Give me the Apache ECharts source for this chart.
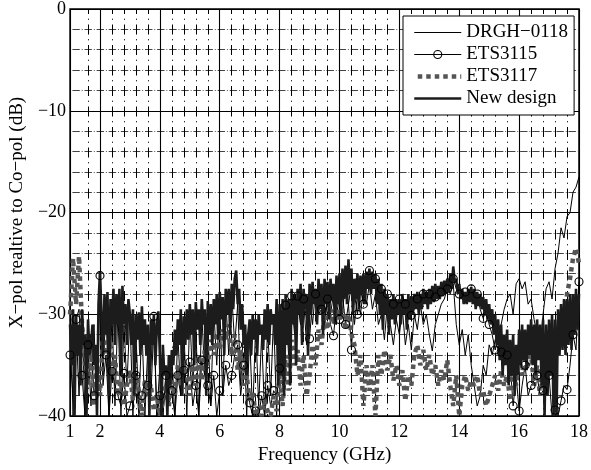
<!DOCTYPE html>
<html>
<head>
<meta charset="utf-8">
<script src="https://cdn.jsdelivr.net/npm/echarts@6/dist/echarts.min.js"></script>
<style>
html, body { margin: 0; padding: 0; background: #fff; }
#chart { width: 591px; height: 470px; }
</style>
</head>
<body>
<div id="chart"></div>
<script>
// Frequency axis (GHz)
const freqMin = 1;
const freqMax = 18;
const freqTickLabels = [1, 2, 4, 6, 8, 10, 12, 14, 16, 18];
const freqMinorGrid = [1.6, 2.4, 2.8, 3.2, 3.6, 4.4, 4.8, 5.2, 5.6, 6.4, 6.8, 7.2, 7.6,
  8.4, 8.8, 9.2, 9.6, 10.4, 10.8, 11.2, 11.6, 12.4, 12.8, 13.2, 13.6, 14.4, 14.8,
  15.2, 15.6, 16.4, 16.8, 17.2, 17.6];

// Cross-pol level axis (dB)
const levelMin = -40;
const levelMax = 0;
const levelStep = 10;

// Sweep settings of the measured traces
const sweepStart = 1;
const coarseStep = 0.1;   // DRGH-0118, ETS3115, ETS3117
const fineStep = 0.05;    // new design

const seriesNames = ['DRGH\u22120118', 'ETS3115', 'ETS3117', 'New design'];

// DRGH-0118, one row per GHz (1.0 ... 17.9), then 18.0
const drgh0118 = [
  -29, -40, -31, -38, -30, -40, -33, -39, -31, -40,
  -27, -36, -29, -40, -30, -39, -29.5, -40, -31, -37,
  -30, -40, -32, -39, -31, -40, -33, -38, -31, -40,
  -35, -40, -36, -39, -34, -40, -32, -38, -31, -40,
  -30, -37, -31, -40, -30, -36, -31, -39, -29.5, -35,
  -29, -38, -28.5, -34, -28, -33, -29, -37, -31, -40,
  -32, -40, -31, -39, -32, -40, -31, -38, -30, -40,
  -30, -37, -29, -34, -28.5, -32, -28, -31, -28.5, -33,
  -28, -31, -27.5, -30, -28, -31.5, -27.5, -30, -28, -31,
  -27, -30, -26.5, -29, -27, -31, -28, -30, -27.5, -29,
  -27, -29.5, -28, -31, -30, -32.5, -29, -31, -33, -30.5,
  -32, -29.5, -33, -31, -33.5, -30, -31.5, -29, -31, -30,
  -32, -33.6, -31, -30, -29, -28.5, -27.5, -28, -27, -31,
  -33, -31.5, -34, -32, -35, -37, -39, -38, -35, -36,
  -33, -34, -32.5, -33.5, -31, -29.5, -28.5, -28, -30, -27,
  -26.5, -27.5, -26.8, -29, -28.5, -30.5, -32, -33.4, -30, -27.5,
  -26.8, -28.5, -25.5, -24, -21.5, -22.5, -20.4, -20, -18, -17.5,
  -16.5
];

// ETS3115, one row per GHz (1.0 ... 17.9), then 18.0
const ets3115 = [
  -34, -38, -30.5, -29.5, -36, -40, -33, -32, -38, -36,
  -26.2, -37, -34, -40, -35.6, -37, -38, -39, -35.8, -40,
  -39, -38, -36, -40, -38, -36.5, -37, -35, -30.2, -40,
  -38, -40, -36, -39, -37.5, -40, -36, -38, -35.5, -37,
  -34.7, -39, -37, -40, -34.5, -36, -37, -39, -36, -40,
  -37.5, -38, -35, -37, -36, -34, -33, -38, -35, -36.5,
  -38.7, -40, -39.5, -40, -38, -40, -37, -39, -37.5, -38,
  -35.3, -32, -29.1, -31.2, -28.2, -30, -28.2, -31, -28.5, -30.5,
  -32.4, -28.5, -28, -30, -29.5, -31, -28.5, -31, -32.1, -29,
  -30.5, -28, -31, -29, -33.5, -28, -30, -27.5, -29, -26.5,
  -25.7, -27.5, -26.5, -28, -27.5, -29.5, -28, -30, -29, -30.5,
  -28.5, -30, -29, -30.5, -30.1, -29.5, -28.5, -29, -28, -28.5,
  -28, -27.5, -28.3, -27.3, -27.8, -27, -27.5, -26.8, -26.5, -27.5,
  -28, -28.5, -27.8, -28.3, -27.5, -28.5, -28, -29.5, -30.4, -29.5,
  -31, -32, -33.5, -32.5, -33.7, -35, -34, -34.8, -39, -36,
  -39.5, -37, -35, -38, -37, -36.5, -36, -38, -37.5, -36,
  -36, -40, -39.4, -40, -38.5, -37, -37.4, -35, -32, -33.5,
  -26.8
];

// ETS3117, one row per GHz (1.0 ... 17.9), then 18.0
const ets3117 = [
  -30, -24.5, -29, -24.3, -31, -35, -37, -33.5, -39, -35,
  -38, -32, -34, -31.7, -36, -34, -38, -36.5, -39, -37,
  -35.5, -38.5, -36, -37.5, -40, -36.5, -38, -37, -39.5, -38,
  -40, -38.5, -37, -39, -36.5, -38, -35, -37, -34.5, -36,
  -38, -35, -37, -34, -36.5, -33.5, -35, -32.5, -34, -31.8,
  -33.5, -31.5, -32.5, -31, -34, -32, -35.5, -33.5, -37, -36,
  -38.5, -37.5, -40, -39, -40, -38.5, -39.5, -40, -38, -39.5,
  -36, -39, -34, -37.5, -32.5, -35, -33.5, -37, -34, -38,
  -36, -33, -35, -31.5, -33, -30, -31.5, -29.5, -31, -29,
  -30.5, -29.5, -31.5, -30, -32, -33, -36, -34, -39, -35,
  -37.5, -35, -40, -34, -36, -33.5, -35.5, -34, -36.5, -35,
  -37, -35.5, -38.5, -36, -37, -34, -33, -35, -33.5, -35.5,
  -34, -36, -35, -37, -35.5, -36.5, -34.5, -37, -39, -36,
  -40, -37, -36, -37.5, -36.5, -37, -36, -38, -37.5, -39,
  -38, -37, -36, -37.5, -35.5, -37, -36, -38.5, -35, -37,
  -34, -36, -33.5, -35, -34, -37, -35, -38, -36, -35,
  -33, -35, -32, -33.5, -30, -31.5, -28, -26.5, -24.5, -23.5,
  -25
];

// New design, one row per GHz (1.00 ... 17.95), then 18.00
const newDesign = [
  -31, -35, -29.5, -40, -30, -34, -31, -37, -29.5, -33, -32, -40, -30.5, -34, -33, -31, -35, -33, -40, -29,
  -25.8, -30, -34, -28, -32, -27.8, -38, -28.5, -31, -27.5, -33, -28, -31, -27.5, -36, -27.2, -31, -29, -33, -28.5,
  -30, -33, -29.5, -38, -30, -32.5, -29.8, -34, -29.2, -33, -30.5, -34, -31, -40, -30.5, -33, -30, -35, -31, -29.7,
  -34, -40, -33, -36, -35, -40, -34, -37, -33.5, -35, -31.5, -34, -30.5, -33, -29.5, -38, -30.2, -33, -29.5, -32.5,
  -29, -32, -29.5, -35, -28.8, -31.5, -29.5, -33, -28.5, -31, -29.5, -38, -28.7, -32, -29, -33, -28.5, -31, -28, -32.5,
  -27.8, -30.5, -28.3, -34, -27.5, -30, -27.5, -32, -27, -29.5, -26.5, -25.7, -29, -27.5, -31.5, -29, -33, -31, -36, -32,
  -30.5, -34, -30, -32.5, -30.5, -34, -30, -32, -31, -33.5, -29.5, -32.5, -29, -33, -29.5, -31, -30, -33, -28.5, -37,
  -29, -36, -28.5, -38, -28, -33, -28.5, -37, -27.5, -31, -28, -35, -27.5, -30, -27, -33, -27.5, -29.5, -28, -34,
  -27, -30, -26.8, -29, -27.5, -31, -26.5, -29.5, -27, -32, -26.5, -29, -26.8, -30.5, -26.5, -28.5, -27, -31, -26.2, -29,
  -26, -30, -25.5, -28.5, -25.2, -29, -24.6, -28, -25.5, -30, -26.5, -28.5, -26, -29.5, -26.2, -28, -26, -29, -25.8, -27.5,
  -25.5, -28, -25.8, -27.5, -26, -29, -26.5, -30, -27, -31.5, -27.5, -30, -28, -32, -28.5, -30.5, -28, -31, -28.5, -30,
  -28.5, -31, -28, -30, -28.5, -31.5, -28, -30.5, -28.2, -30, -28, -29.5, -27.8, -30, -28, -29.5, -27.5, -29, -27.8, -29.5,
  -27.5, -29, -27.2, -28.8, -27, -28.5, -27.2, -28.5, -26.8, -28.2, -26.7, -28, -26.5, -27.8, -26, -27.5, -25.3, -26.8, -26.5, -28,
  -27, -28.5, -27.5, -29, -27.8, -29, -27.5, -28.8, -27.3, -29, -27.5, -29.5, -27.8, -29.2, -28, -29.5, -28.3, -30, -28.5, -30.5,
  -29, -31, -29.5, -32, -30, -33, -30.5, -34.5, -31, -36, -32, -35, -31.5, -37, -32.5, -36, -32, -38, -33, -36,
  -31.5, -35, -31, -34.5, -31.5, -35.5, -31, -34, -30.5, -35, -31, -36, -30.5, -34.5, -31, -37, -30.5, -40, -31, -38,
  -30.5, -36, -30, -40, -30.5, -40, -29.5, -34, -29, -33.5, -28.5, -34, -28.5, -33, -28, -33.5, -28, -32, -27.5, -31.5,
  -28
];

// Pair each level with its sweep frequency
function sweep(values, step) {
  return values.map((v, i) => [+(sweepStart + i * step).toFixed(2), v]);
}

const fontFamily = 'Liberation Serif';
const minus = v => (v < 0 ? '\u2212' + Math.abs(v) : String(v));

// Trace styles
const traceStyles = [
  { color: '#000', width: 1, type: 'solid' },
  { color: '#000', width: 1, type: 'solid' },
  { color: '#555', width: 4.5, type: [4.5, 4] },
  { color: '#1c1c1c', width: 2.6, type: 'solid' }
];

const series = [
  {
    name: seriesNames[0], type: 'line',
    data: sweep(drgh0118, coarseStep),
    symbol: 'none'
  },
  {
    name: seriesNames[1], type: 'line',
    // open circle on every second sweep point
    data: sweep(ets3115, coarseStep).map((p, i) => ({ value: p, symbol: i % 2 === 0 ? 'circle' : 'none' })),
    symbol: 'circle', symbolSize: 8, showSymbol: true,
    itemStyle: { color: 'rgba(255,255,255,0)', borderColor: '#000', borderWidth: 1.1 }
  },
  {
    name: seriesNames[2], type: 'line',
    data: sweep(ets3117, coarseStep),
    symbol: 'none'
  },
  {
    name: seriesNames[3], type: 'line',
    data: sweep(newDesign, fineStep),
    symbol: 'none'
  }
].map((s, i) => Object.assign({
  xAxisIndex: 0, silent: true, emphasis: { disabled: true },
  lineStyle: traceStyles[i],
  itemStyle: { color: traceStyles[i].color }
}, s));

// Legend entries repeat each trace style; only ETS3115 shows its marker
const legendItems = seriesNames.map((name, i) => ({
  name: name,
  lineStyle: Object.assign({ opacity: 1 }, traceStyles[i]),
  itemStyle: i === 1
    ? { color: 'rgba(255,255,255,0)', borderColor: '#000', borderWidth: 1.1, opacity: 1 }
    : { opacity: 0 }
}));

const chart = echarts.init(document.getElementById('chart'), null, { renderer: 'canvas' });

chart.setOption({
  animation: false,
  backgroundColor: '#fff',
  textStyle: { fontFamily: fontFamily, color: '#000' },
  grid: {
    left: 67, right: 9, top: 8, bottom: 52,
    show: true, borderColor: '#000', borderWidth: 1.5, backgroundColor: 'transparent'
  },
  legend: {
    data: legendItems,
    orient: 'vertical',
    left: 403, top: 16,
    itemWidth: 47, itemHeight: 10, itemGap: 3,
    padding: [7, 6, 7, 9],
    backgroundColor: '#fff', borderColor: '#000', borderWidth: 1, borderRadius: 0,
    selectedMode: false,
    textStyle: {
      fontFamily: fontFamily, fontSize: 19, color: '#000',
      width: 104, overflow: 'none'
    }
  },
  xAxis: [
    {
      type: 'value', min: freqMin, max: freqMax,
      name: 'Frequency (GHz)', nameLocation: 'middle', nameGap: 24,
      nameTextStyle: { fontFamily: fontFamily, fontSize: 19, color: '#000' },
      axisLine: { show: false },
      axisTick: { show: false, customValues: freqTickLabels },
      axisLabel: {
        customValues: freqTickLabels, margin: 7,
        fontFamily: fontFamily, fontSize: 18, color: '#000'
      },
      splitLine: { show: true, lineStyle: { color: '#000', width: 1.1, type: 'solid' } }
    },
    {
      type: 'value', min: freqMin, max: freqMax, position: 'bottom',
      axisLine: { show: false },
      axisTick: { show: false, customValues: freqMinorGrid },
      axisLabel: { show: false },
      splitLine: {
        show: true,
        lineStyle: { color: '#000', width: 1, type: [10, 4.7, 1.1, 4.7], dashOffset: 5 }
      }
    }
  ],
  yAxis: {
    type: 'value', min: levelMin, max: levelMax, interval: levelStep,
    name: 'X\u2212pol realtive to Co\u2212pol (dB)', nameLocation: 'middle', nameGap: 41, nameRotate: 90,
    nameTextStyle: { fontFamily: fontFamily, fontSize: 19, color: '#000' },
    axisLine: { show: false },
    axisTick: { show: false },
    axisLabel: {
      margin: 4, fontFamily: fontFamily, fontSize: 18, color: '#000',
      formatter: minus
    },
    splitLine: { show: true, lineStyle: { color: '#000', width: 1.2, type: 'solid' } },
    minorTick: { show: false, splitNumber: 5 },
    minorSplitLine: {
      show: true,
      lineStyle: { color: '#444', width: 1.2, type: [7.4, 1.9, 0.9, 1.9], dashOffset: 9.74 }
    }
  },
  series: series
});
</script>
</body>
</html>
